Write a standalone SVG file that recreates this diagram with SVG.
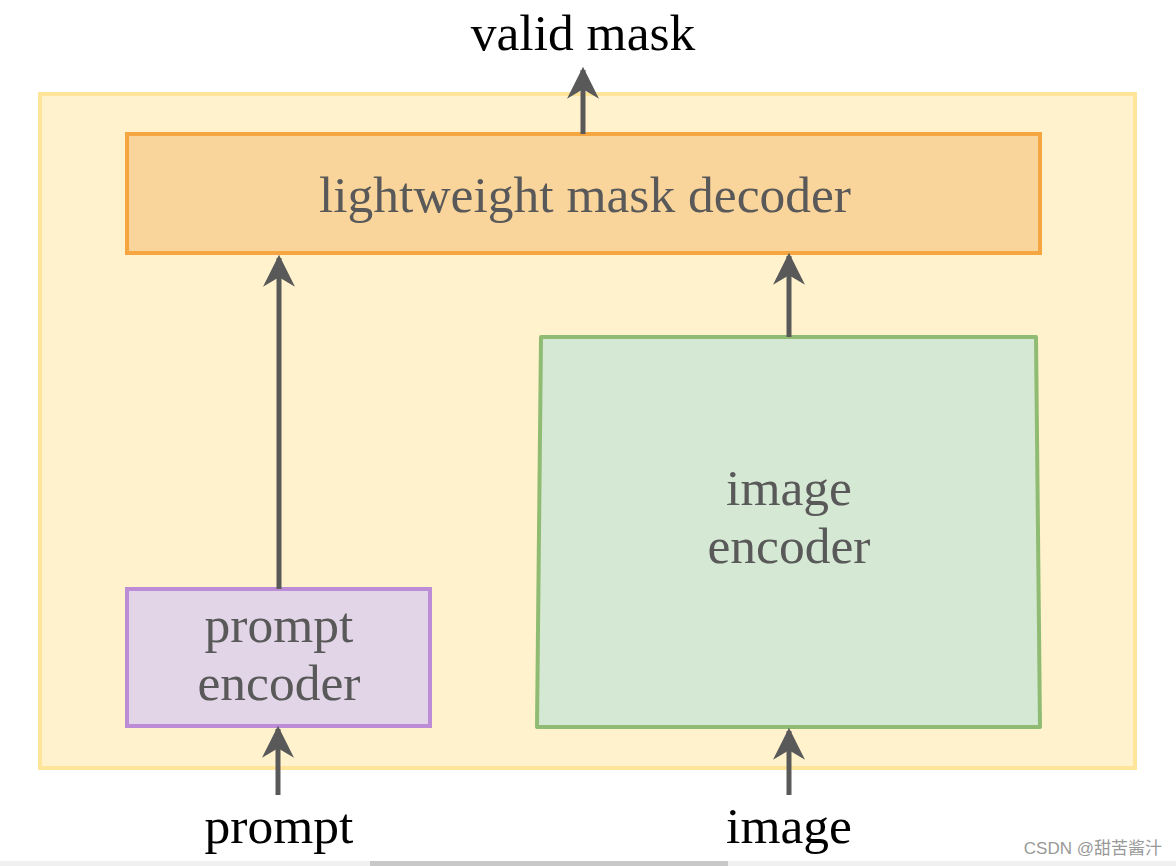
<svg xmlns="http://www.w3.org/2000/svg" width="1176" height="866" viewBox="0 0 1176 866">
<defs>
<style>
.t{font-family:"Liberation Serif","Times New Roman",serif;font-size:51.5px;text-anchor:middle}
.g{fill:#595959}
.k{fill:#000}
.ln{stroke:#595959;stroke-width:5;fill:none}
</style>
<marker id="ah" viewBox="0 0 10 10" refX="9" refY="5" markerWidth="6.4" markerHeight="6.4" markerUnits="strokeWidth" orient="auto">
<path d="M0,0 L10,5 L0,10 L3,5 Z" fill="#595959"/>
</marker>
</defs>
<rect width="1176" height="866" fill="#fff"/>
<g id="container">
<rect x="40" y="94" width="1095" height="674" fill="#fff2cc" stroke="#ffe599" stroke-width="4"/>
</g>
<g id="decoder">
<rect x="127" y="134" width="913" height="119" fill="#fad59b" stroke="#f5a640" stroke-width="4"/>
<text class="t g" x="585" y="212">lightweight mask decoder</text>
</g>
<g id="image-encoder">
<path d="M541,337 L1036,337 L1040,727 L537,727 Z" fill="#d5e8d4" stroke="#8fbb72" stroke-width="4" stroke-linejoin="round"/>
<text class="t g" x="789" y="505">image</text>
<text class="t g" x="789" y="563">encoder</text>
</g>
<g id="prompt-encoder">
<rect x="127" y="589" width="303" height="137" fill="#e1d5e7" stroke="#bd8cd6" stroke-width="4"/>
<text class="t g" x="279" y="642">prompt</text>
<text class="t g" x="279" y="700">encoder</text>
</g>
<g id="connectors">
<line class="ln" x1="583" y1="134" x2="583" y2="70" marker-end="url(#ah)"/>
<line class="ln" x1="279" y1="589" x2="279" y2="258" marker-end="url(#ah)"/>
<line class="ln" x1="789" y1="337" x2="789" y2="256" marker-end="url(#ah)"/>
<line class="ln" x1="278" y1="795" x2="278" y2="729" marker-end="url(#ah)"/>
<line class="ln" x1="789" y1="795" x2="789" y2="731" marker-end="url(#ah)"/>
</g>
<g id="labels">
<text class="t k" x="583" y="50">valid mask</text>
<text class="t k" x="279" y="843">prompt</text>
<text class="t k" x="789" y="843">image</text>
</g>
<text x="1162" y="854" font-family="'Liberation Sans','Noto Sans CJK SC',sans-serif" font-size="17" fill="#999" text-anchor="end">CSDN @甜苦酱汁</text>
<rect x="0" y="861" width="1176" height="5" fill="#f0f0f0"/>
<rect x="370" y="861" width="358" height="5" fill="#c8c8c8"/>
</svg>
